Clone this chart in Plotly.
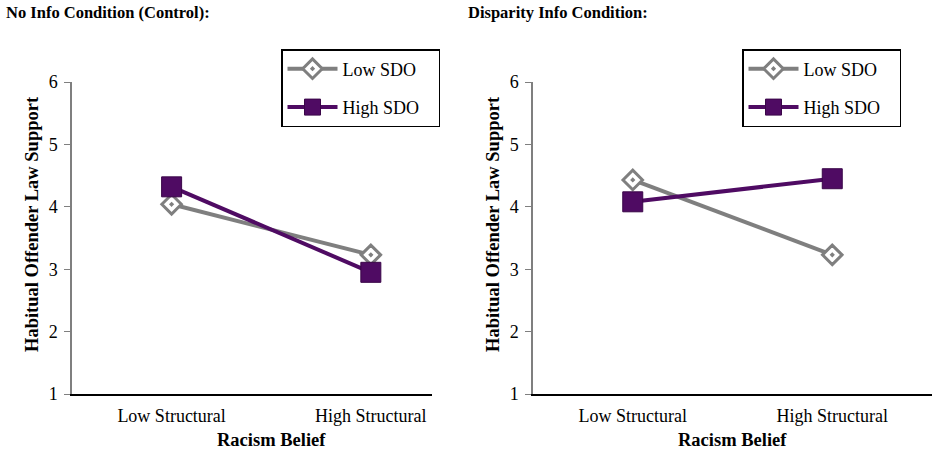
import plotly.graph_objects as go

# data
categories = ["Low Structural", "High Structural"]
series_names = ["Low SDO", "High SDO"]
no_info_low_sdo = [4.04, 3.23]
no_info_high_sdo = [4.32, 2.95]
disparity_low_sdo = [4.43, 3.23]
disparity_high_sdo = [4.08, 4.45]
y_ticks = [1, 2, 3, 4, 5, 6]

W, H = 935, 450
FONT = "Liberation Serif"
GRAY = "#7f7f7f"
PURPLE = "#4f0b63"
PAD = "\u00a0" * 3  # room on the right of the legend text, like the original box


def px_x(p):
    return p / W


def px_y(p):
    return 1 - p / H


x_pos = list(range(len(categories)))

fig = go.Figure()


def add_panel(fig, low, high, xaxis, yaxis, legend):
    fig.add_trace(go.Scatter(
        x=x_pos, y=low, name=series_names[0] + PAD, mode="lines+markers",
        xaxis=xaxis, yaxis=yaxis, legend=legend, legendgroup="low",
        line=dict(color=GRAY, width=4),
        marker=dict(symbol="diamond-dot", size=15, color="white",
                    line=dict(color=GRAY, width=3)),
    ))
    fig.add_trace(go.Scatter(
        x=x_pos, y=high, name=series_names[1] + PAD, mode="lines+markers",
        xaxis=xaxis, yaxis=yaxis, legend=legend, legendgroup="high",
        line=dict(color=PURPLE, width=4),
        marker=dict(symbol="square", size=20, color=PURPLE,
                    line=dict(color="#3a0648", width=1)),
    ))


add_panel(fig, no_info_low_sdo, no_info_high_sdo, "x", "y", "legend")
add_panel(fig, disparity_low_sdo, disparity_high_sdo, "x2", "y2", "legend2")

xaxis_common = dict(
    tickvals=x_pos, ticktext=categories, showline=True, linecolor="black",
    linewidth=1.5, ticks="", showgrid=False, zeroline=False,
    tickfont=dict(family=FONT, size=18, color="black"), fixedrange=True,
    automargin=False, ticklabelstandoff=5,
)
yaxis_common = dict(
    tickvals=y_ticks, range=[1, 6], showline=True, linecolor=GRAY,
    linewidth=1.5, ticks="outside", ticklen=6, tickcolor=GRAY,
    showgrid=False, zeroline=False, domain=[px_y(394), px_y(82)],
    tickfont=dict(family=FONT, size=18, color="black"), fixedrange=True,
    automargin=False, ticklabelstandoff=3,
)

legend_common = dict(
    bgcolor="white", bordercolor="black", borderwidth=1.5,
    font=dict(family=FONT, size=18, color="black"),
    xanchor="left", yanchor="top", y=px_y(49),
    tracegroupgap=12, traceorder="grouped", itemwidth=50,
)

annotations = [
    dict(text="<b>No Info Condition (Control):</b>", x=px_x(4), y=px_y(1),
         xanchor="left", yanchor="top"),
    dict(text="<b>Disparity Info Condition:</b>", x=px_x(466), y=px_y(1),
         xanchor="left", yanchor="top"),
]
for a in annotations:
    a["font"] = dict(family=FONT, size=16.5, color="black")
for cx, tx in [(32, 271), (493, 732)]:
    annotations.append(dict(
        text="<b>Habitual Offender Law Support</b>", x=px_x(cx), y=px_y(224),
        textangle=-90, xanchor="center", yanchor="middle",
        font=dict(family=FONT, size=18.5, color="black")))
    annotations.append(dict(
        text="<b>Racism Belief</b>", x=px_x(tx), y=px_y(440),
        xanchor="center", yanchor="middle",
        font=dict(family=FONT, size=18.5, color="black")))
for a in annotations:
    a.update(xref="paper", yref="paper", showarrow=False)

fig.update_layout(
    width=W, height=H, margin=dict(l=0, r=0, t=0, b=0, pad=0),
    paper_bgcolor="white", plot_bgcolor="white",
    xaxis=dict(xaxis_common, domain=[px_x(72), px_x(432)], range=[-0.5, 1.307]),
    yaxis=dict(yaxis_common, anchor="x"),
    xaxis2=dict(xaxis_common, domain=[px_x(533), px_x(932)], range=[-0.5, 1.5], anchor="y2"),
    yaxis2=dict(yaxis_common, anchor="x2"),
    legend=dict(legend_common, x=px_x(281)),
    legend2=dict(legend_common, x=px_x(742)),
    annotations=annotations,
    showlegend=True,
)

# the page body has a default 8px margin; drop it so the figure fills the window
fig.write_html("out.html", config={"displayModeBar": False},
               post_script="document.body.style.margin = '0';")
